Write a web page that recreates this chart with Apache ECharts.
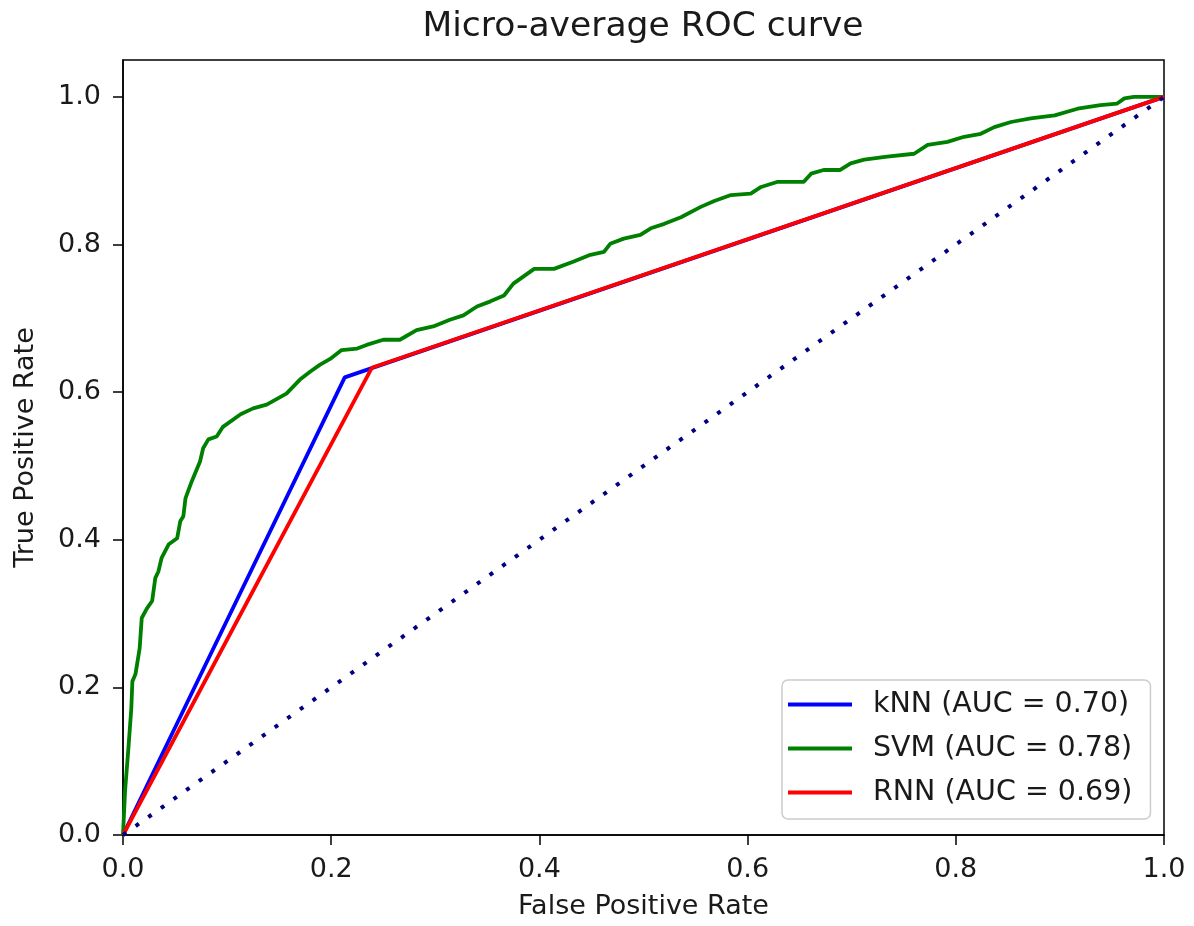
<!DOCTYPE html>
<html>
<head>
<meta charset="utf-8">
<script src="https://cdn.jsdelivr.net/npm/echarts@6/dist/echarts.min.js"></script>
<style>
html,body{margin:0;padding:0;background:#fff;}
#chart{width:1194px;height:926px;}
</style>
</head>
<body>
<div id="chart"></div>
<script>
// ---- Data ----
const xTicks = [0.0, 0.2, 0.4, 0.6, 0.8, 1.0];
const yTicks = [0.0, 0.2, 0.4, 0.6, 0.8, 1.0];

const knnFpr = [0, 0.213, 1.0];
const knnTpr = [0, 0.620, 1.0];

const rnnFpr = [0, 0.239, 1.0];
const rnnTpr = [0, 0.633, 1.0];

const svmFpr = [0, 0.002, 0.005, 0.008, 0.009, 0.012, 0.016, 0.018, 0.023, 0.028, 0.031, 0.034, 0.037, 0.044, 0.052, 0.055, 0.058, 0.060, 0.066, 0.074, 0.077, 0.082, 0.090, 0.096, 0.113, 0.125, 0.138, 0.157, 0.170, 0.180, 0.189, 0.199, 0.210, 0.225, 0.234, 0.250, 0.266, 0.282, 0.298, 0.314, 0.327, 0.340, 0.353, 0.366, 0.375, 0.395, 0.414, 0.433, 0.449, 0.462, 0.468, 0.481, 0.497, 0.507, 0.520, 0.536, 0.555, 0.568, 0.584, 0.603, 0.613, 0.629, 0.654, 0.661, 0.673, 0.689, 0.699, 0.712, 0.734, 0.760, 0.773, 0.792, 0.808, 0.824, 0.837, 0.853, 0.872, 0.895, 0.917, 0.939, 0.955, 0.962, 0.971, 1.0];
const svmTpr = [0, 0.060, 0.114, 0.172, 0.208, 0.218, 0.253, 0.294, 0.307, 0.317, 0.348, 0.357, 0.375, 0.394, 0.402, 0.425, 0.432, 0.456, 0.479, 0.506, 0.524, 0.536, 0.540, 0.553, 0.570, 0.578, 0.583, 0.598, 0.617, 0.628, 0.637, 0.645, 0.657, 0.659, 0.664, 0.671, 0.671, 0.684, 0.689, 0.698, 0.704, 0.716, 0.723, 0.731, 0.747, 0.767, 0.767, 0.777, 0.786, 0.790, 0.801, 0.808, 0.813, 0.822, 0.828, 0.837, 0.851, 0.859, 0.867, 0.869, 0.878, 0.885, 0.885, 0.896, 0.901, 0.901, 0.910, 0.915, 0.919, 0.923, 0.935, 0.939, 0.946, 0.950, 0.959, 0.966, 0.971, 0.975, 0.984, 0.989, 0.991, 0.998, 1.0, 1.0];

const chanceFpr = [0, 1];
const chanceTpr = [0, 1];

const seriesNames = ['kNN (AUC = 0.70)', 'SVM (AUC = 0.78)', 'RNN (AUC = 0.69)'];
const titleText = 'Micro-average ROC curve';
const xName = 'False Positive Rate';
const yName = 'True Positive Rate';

// ---- Build ----
const zip = (a, b) => a.map((v, i) => [v, b[i]]);
const FONT = 'DejaVu Sans';
const TXT = '#1a1a1a';

const chart = echarts.init(document.getElementById('chart'), null, {renderer: 'canvas'});
const lw = 3.8;

chart.setOption({
  animation: false,
  backgroundColor: '#fff',
  graphic: [{
    type: 'text',
    x: 643, y: 27,
    style: {
      text: titleText, font: '34.5px "DejaVu Sans"', fill: TXT,
      textAlign: 'center', textVerticalAlign: 'middle'
    }
  }],
  grid: {
    left: 123, right: 30, top: 60, bottom: 91,
    show: true, borderColor: '#000', borderWidth: 1.5, backgroundColor: '#fff',
    containLabel: false
  },
  legend: {
    data: seriesNames,
    orient: 'vertical',
    left: 782, top: 680,
    icon: 'rect',
    itemWidth: 64, itemHeight: 4,
    itemGap: 15,
    padding: [10, 18, 12, 6],
    backgroundColor: 'rgba(255,255,255,0.85)',
    borderColor: '#cccccc', borderWidth: 1.5, borderRadius: 6,
    textStyle: {fontFamily: FONT, fontSize: 28.5, color: TXT, lineHeight: 29, padding: [0, 0, 0, 16]}
  },
  xAxis: {
    type: 'value', min: 0, max: 1, interval: 0.2,
    name: xName, nameLocation: 'middle', nameGap: 58,
    nameTextStyle: {fontFamily: FONT, fontSize: 27, color: TXT},
    axisLine: {show: true, onZero: false, lineStyle: {color: '#000', width: 1.5}},
    axisTick: {show: true, inside: false, length: 10, lineStyle: {color: '#000', width: 1.5}, customValues: xTicks},
    axisLabel: {fontFamily: FONT, fontSize: 27, color: TXT, margin: 21, customValues: xTicks,
      formatter: v => Number(v).toFixed(1)},
    splitLine: {show: false}
  },
  yAxis: {
    type: 'value', min: 0, max: 1.05, interval: 0.2,
    name: yName, nameLocation: 'middle', nameGap: 84, nameRotate: 90,
    nameTextStyle: {fontFamily: FONT, fontSize: 27, color: TXT},
    axisLine: {show: true, onZero: false, lineStyle: {color: '#000', width: 1.5}},
    axisTick: {show: true, inside: false, length: 10, lineStyle: {color: '#000', width: 1.5}, customValues: yTicks},
    axisLabel: {fontFamily: FONT, fontSize: 27, color: TXT, margin: 22, customValues: yTicks,
      formatter: v => Number(v).toFixed(1)},
    splitLine: {show: false}
  },
  series: [
    {name: seriesNames[0], type: 'line', data: zip(knnFpr, knnTpr), showSymbol: false, symbol: 'none',
      lineStyle: {color: '#0000ff', width: lw}, itemStyle: {color: '#0000ff'}, clip: true},
    {name: seriesNames[1], type: 'line', data: zip(svmFpr, svmTpr), showSymbol: false, symbol: 'none',
      lineStyle: {color: '#008000', width: lw}, itemStyle: {color: '#008000'}, clip: true},
    {name: seriesNames[2], type: 'line', data: zip(rnnFpr, rnnTpr), showSymbol: false, symbol: 'none',
      lineStyle: {color: '#ff0000', width: lw}, itemStyle: {color: '#ff0000'}, clip: true},
    {name: 'chance', type: 'line', data: zip(chanceFpr, chanceTpr), showSymbol: false, symbol: 'none',
      lineStyle: {color: '#000080', width: 4, type: [4, 11.5]}, itemStyle: {color: '#000080'}, clip: true}
  ]
});
</script>
</body>
</html>
